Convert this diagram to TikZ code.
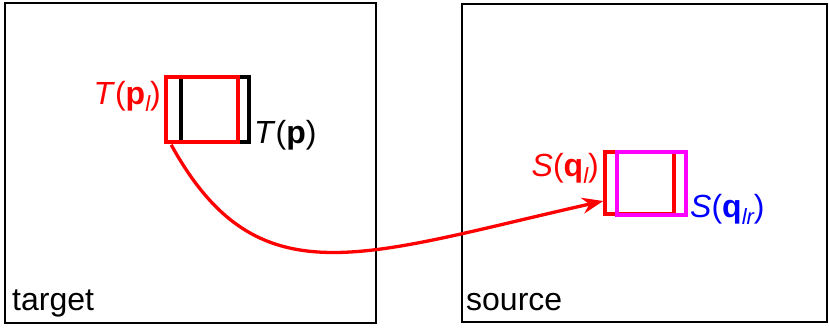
\documentclass[tikz,border=0pt]{standalone}
\usepackage{fontspec}
\setmainfont{Liberation Sans}
\usetikzlibrary{arrows.meta,calc}
\definecolor{pred}{RGB}{255,0,0}
\definecolor{pmag}{RGB}{255,0,255}
\definecolor{pblue}{RGB}{0,0,255}
\newcommand{\mysub}[1]{\raisebox{-0.22em}{\fontsize{22}{24}\selectfont\itshape #1}}
\begin{document}
\begin{tikzpicture}[x=1pt,y=-1pt,
  frame/.style={draw=black,line width=2.2pt},
  win/.style={draw,line width=3.6pt,inner sep=0pt,rectangle},
  lbl/.style={font=\fontsize{32}{38}\selectfont,inner sep=0pt},
  conn/.style={draw=pred,line width=3.3pt,-{Stealth[length=21pt,width=16pt]}}]
\useasboundingbox (0,0) rectangle (829,327);
% outer frames
\node[frame,minimum width=371pt,minimum height=320pt,inner sep=0pt] (tgt) at (190.5,163) {};
\node[frame,minimum width=365pt,minimum height=318pt,inner sep=0pt] (src) at (644.5,163) {};
\node[lbl,anchor=base west] (tgtlbl) at (12,310) {target};
\node[lbl,anchor=base west] (srclbl) at (466,310) {source};
% target windows
\node[win,draw=black,minimum width=68pt,minimum height=65pt] (tp) at (215,109.5) {};
\node[win,draw=pred,minimum width=72pt,minimum height=65pt] (tpl) at (202,109.5) {};
% source windows
\node[win,draw=pred,minimum width=69pt,minimum height=62pt] (sql) at (639.5,183) {};
\node[win,draw=pmag,minimum width=69pt,minimum height=63pt] (sqlr) at (651.5,183.5) {};
% labels
\node[lbl,text=pred,anchor=base east] (tpllbl) at (161,104) {\textit{T}(\textbf{p}\mysub{l})};
\node[lbl,text=black,anchor=base west] (tplbl) at (254,143) {\textit{T}(\textbf{p})};
\node[lbl,text=pred,anchor=base east] (sqllbl) at (599,176) {\textit{S}(\textbf{q}\mysub{l})};
\node[lbl,text=pblue,anchor=base west] (sqlrlbl) at (690,217) {\textit{S}(\textbf{q}\mysub{lr})};
% connector
\coordinate (a) at ($(tpl.south west)+(7,1)$);
\coordinate (b) at ($(sql.west)+(0,18)$);
\draw[conn] (a) .. controls (257.6,301.4) and (361,255.5) .. (b);
\end{tikzpicture}
\end{document}
